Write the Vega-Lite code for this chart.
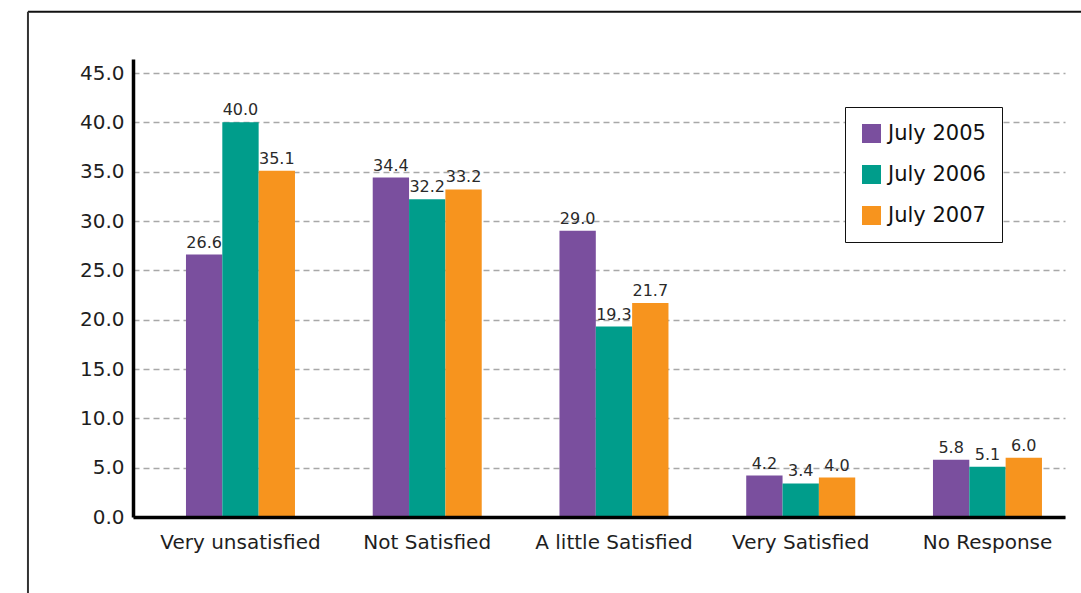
{
  "$schema": "https://vega.github.io/schema/vega-lite/v6.json",
  "autosize": {"type": "none"},
  "width": 932,
  "height": 458,
  "padding": {"left": 133, "top": 59, "right": 16, "bottom": 76},
  "background": "white",
  "config": {
    "font": "DejaVu Sans",
    "view": {"stroke": null},
    "axis": {"labelFont": "DejaVu Sans", "labelColor": "#1e1e1e"}
  },
  "datasets": {
    "survey": [
      {"response": "Very unsatisfied", "period": "July 2005", "pct": 26.6},
      {"response": "Very unsatisfied", "period": "July 2006", "pct": 40.0},
      {"response": "Very unsatisfied", "period": "July 2007", "pct": 35.1},
      {"response": "Not Satisfied", "period": "July 2005", "pct": 34.4},
      {"response": "Not Satisfied", "period": "July 2006", "pct": 32.2},
      {"response": "Not Satisfied", "period": "July 2007", "pct": 33.2},
      {"response": "A little Satisfied", "period": "July 2005", "pct": 29.0},
      {"response": "A little Satisfied", "period": "July 2006", "pct": 19.3},
      {"response": "A little Satisfied", "period": "July 2007", "pct": 21.7},
      {"response": "Very Satisfied", "period": "July 2005", "pct": 4.2},
      {"response": "Very Satisfied", "period": "July 2006", "pct": 3.4},
      {"response": "Very Satisfied", "period": "July 2007", "pct": 4.0},
      {"response": "No Response", "period": "July 2005", "pct": 5.8},
      {"response": "No Response", "period": "July 2006", "pct": 5.1},
      {"response": "No Response", "period": "July 2007", "pct": 6.0}
    ],
    "frame": [{"edge": "outer"}]
  },
  "resolve": {"scale": {"x": "independent"}},
  "layer": [
    {
      "data": {"name": "survey"},
      "encoding": {
        "x": {
          "field": "response",
          "type": "nominal",
          "sort": ["Very unsatisfied", "Not Satisfied", "A little Satisfied", "Very Satisfied", "No Response"],
          "scale": {"paddingInner": 0.4163, "paddingOuter": 0.2035, "align": 0.697},
          "axis": {
            "title": null,
            "labelAngle": 0,
            "labelFontSize": 20,
            "labelPadding": 15,
            "ticks": false,
            "domainColor": "#000000",
            "domainWidth": 3.5,
            "zindex": 1
          }
        },
        "xOffset": {
          "field": "period",
          "type": "nominal",
          "scale": {"paddingInner": 0, "paddingOuter": 0}
        },
        "y": {
          "field": "pct",
          "type": "quantitative",
          "scale": {"domain": [0, 46.42], "nice": false, "zero": true},
          "axis": {
            "title": null,
            "values": [0, 5, 10, 15, 20, 25, 30, 35, 40, 45],
            "format": ".1f",
            "labelFontSize": 20,
            "labelPadding": 9,
            "ticks": false,
            "domainColor": "#000000",
            "domainWidth": 3.5,
            "grid": true,
            "gridColor": "#a8a8a8",
            "gridDash": [6, 4],
            "gridWidth": 1.5
          }
        }
      },
      "layer": [
        {
          "mark": {"type": "bar", "strokeWidth": 0},
          "encoding": {
            "color": {
              "field": "period",
              "type": "nominal",
              "scale": {
                "domain": ["July 2005", "July 2006", "July 2007"],
                "range": ["#7a4f9e", "#009d8b", "#f7941e"]
              },
              "legend": {
                "title": null,
                "orient": "none",
                "legendX": 712,
                "legendY": 48,
                "padding": 16,
                "rowPadding": 19,
                "strokeColor": "#111111",
                "fillColor": "white",
                "symbolType": "square",
                "symbolSize": 361,
                "symbolStrokeWidth": 0,
                "symbolOpacity": 1,
                "labelFont": "DejaVu Sans",
                "labelFontSize": 21,
                "labelColor": "#111111",
                "labelOffset": 6
              }
            }
          }
        },
        {
          "mark": {
            "type": "text",
            "baseline": "alphabetic",
            "dy": -7,
            "fontSize": 16,
            "color": "#2a2a2a"
          },
          "encoding": {
            "text": {"field": "pct", "type": "quantitative", "format": ".1f"}
          }
        }
      ]
    },
    {
      "data": {"name": "frame"},
      "mark": {"type": "rule", "color": "#111111", "strokeWidth": 2},
      "encoding": {
        "x": {
          "datum": -0.1127,
          "type": "quantitative",
          "scale": {"domain": [0, 1], "nice": false, "zero": false},
          "axis": null
        },
        "x2": {"datum": 1.1},
        "y": {"datum": 51.21, "type": "quantitative"}
      }
    },
    {
      "data": {"name": "frame"},
      "mark": {"type": "rule", "color": "#333333", "strokeWidth": 2},
      "encoding": {
        "x": {
          "datum": -0.1127,
          "type": "quantitative",
          "scale": {"domain": [0, 1], "nice": false, "zero": false},
          "axis": null
        },
        "y": {"datum": 51.21, "type": "quantitative"},
        "y2": {"datum": -10}
      }
    }
  ]
}
